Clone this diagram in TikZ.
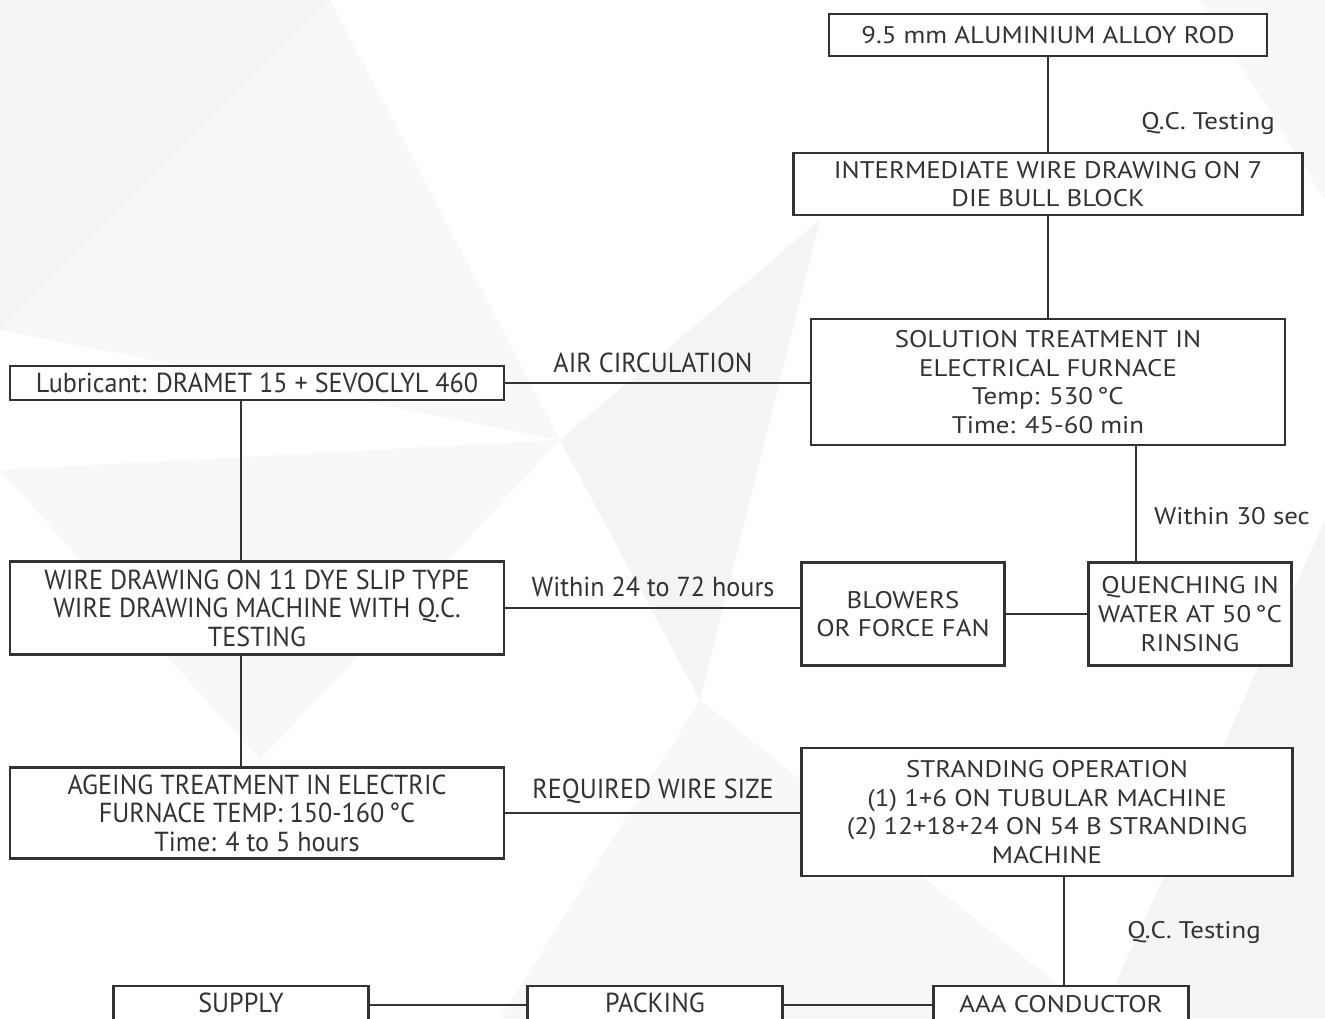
\documentclass[tikz,border=0pt]{standalone}
\usepackage{fontspec}
\setmainfont[FakeStretch=1.12]{PT Sans}
\newfontfamily\narrowfont[FakeStretch=0.95]{PT Sans}
\usetikzlibrary{positioning}
\definecolor{ink}{HTML}{333333}
\definecolor{bgpoly}{HTML}{F4F4F4}
\definecolor{bgpolyb}{HTML}{F8F8F8}

\tikzset{
  box/.style={draw=ink, line width=2.8pt, fill=white, align=center, inner sep=0pt,
    text=ink, font=\fontsize{24}{28.6}\selectfont},
  narrowbox/.style={box, font=\narrowfont\fontsize{27.5}{28.6}\selectfont},
  link/.style={draw=ink, line width=2.8pt},
  note/.style={text=ink, inner sep=0pt, font=\fontsize{24}{28}\selectfont},
  narrownote/.style={note, font=\narrowfont\fontsize{27.5}{28}\selectfont}
}

\begin{document}
\begin{tikzpicture}[x=1pt, y=-1pt]
  \useasboundingbox (0,0) rectangle (1325,1018);
  \clip (0,0) rectangle (1325,1018);
  \fill[white] (0,0) rectangle (1325,1018);

  % faint low-poly background
  \fill[bgpoly] (0,0) -- (330,0) -- (0,330) -- cycle;
  \fill[bgpolyb] (0,330) -- (330,0) -- (560,440) -- cycle;
  \fill[bgpoly] (560,440) -- (820,220) -- (700,700) -- cycle;
  \fill[bgpolyb] (0,470) -- (560,440) -- (260,760) -- cycle;
  \fill[bgpoly] (1325,520) -- (1100,1018) -- (1325,1018) -- cycle;
  \fill[bgpolyb] (700,700) -- (1100,1018) -- (500,1018) -- cycle;
  \fill[bgpolyb] (1200,0) -- (1325,0) -- (1325,200) -- cycle;

  % boxes
  \node[box, minimum width=438, minimum height=42] (rod) at (1048,35) {9.5 mm ALUMINIUM ALLOY ROD};
  \node[box, minimum width=509, minimum height=62] (inter) at (1048,184)
    {INTERMEDIATE WIRE DRAWING ON 7\\DIE BULL BLOCK};
  \node[box, minimum width=474, minimum height=126] (sol) at (1048,382)
    {SOLUTION TREATMENT IN\\ELECTRICAL FURNACE\\Temp: 530\,°C\\Time: 45-60 min};
  \node[narrowbox, minimum width=494, minimum height=34] (lub) at (257,383)
    {Lubricant: DRAMET 15 + SEVOCLYL 460};
  \node[box, minimum width=203, minimum height=103] (quench) at (1190,614)
    {QUENCHING IN\\WATER AT 50\,°C\\RINSING};
  \node[box, minimum width=203, minimum height=103] (blow) at (903,614)
    {BLOWERS\\OR FORCE FAN};
  \node[narrowbox, minimum width=494, minimum height=93] (wire) at (257,608)
    {WIRE DRAWING ON 11 DYE SLIP TYPE\\WIRE DRAWING MACHINE WITH Q.C.\\TESTING};
  \node[narrowbox, minimum width=494, minimum height=91] (age) at (257,813)
    {AGEING TREATMENT IN ELECTRIC\\FURNACE TEMP: 150-160\,°C\\Time: 4 to 5 hours};
  \node[box, minimum width=491, minimum height=128] (str) at (1047,812)
    {STRANDING OPERATION\\(1) 1+6 ON TUBULAR MACHINE\\(2) 12+18+24 ON 54 B STRANDING\\MACHINE};
  \node[box, minimum width=255, minimum height=38] (aaa) at (1061,1005) {\raisebox{3pt}{AAA CONDUCTOR}};
  \node[narrowbox, minimum width=255, minimum height=38] (pack) at (655,1005) {\raisebox{5pt}{PACKING}};
  \node[narrowbox, minimum width=255, minimum height=38] (supply) at (241,1005) {\raisebox{5pt}{SUPPLY}};

  % where the connectors leave the boxes
  \coordinate (qx) at (1136,0);
  \coordinate (lx) at (241,0);
  \coordinate (ax) at (1064,0);

  % connectors
  \draw[link] (rod) -- (inter);
  \draw[link] (inter) -- (sol);
  \draw[link] (lub.east) -- (sol.west |- lub.east);
  \draw[link] (sol.south -| qx) -- (quench.north -| qx);
  \draw[link] (blow.east) -- (quench.west |- blow.east);
  \draw[link] (wire.east) -- (blow.west |- wire.east);
  \draw[link] (lub.south -| lx) -- (wire.north -| lx);
  \draw[link] (wire.south -| lx) -- (age.north -| lx);
  \draw[link] (age.east) -- (str.west |- age.east);
  \draw[link] (str.south -| ax) -- (aaa.north -| ax);
  \draw[link] (supply) -- (pack);
  \draw[link] (pack) -- (aaa);

  % labels on the connectors
  \node[note, anchor=east] (qc1) at (1275,123) {Q.C. Testing};
  \node[narrownote] (air) at (653,363) {AIR CIRCULATION};
  \node[note, anchor=east] (w30) at (1310,516) {Within 30 sec};
  \node[narrownote] (w24) at (653,587) {Within 24 to 72 hours};
  \node[narrownote] (req) at (653,791) {REQUIRED WIRE SIZE};
  \node[note, anchor=east] (qc2) at (1261,932) {Q.C. Testing};
\end{tikzpicture}
\end{document}
